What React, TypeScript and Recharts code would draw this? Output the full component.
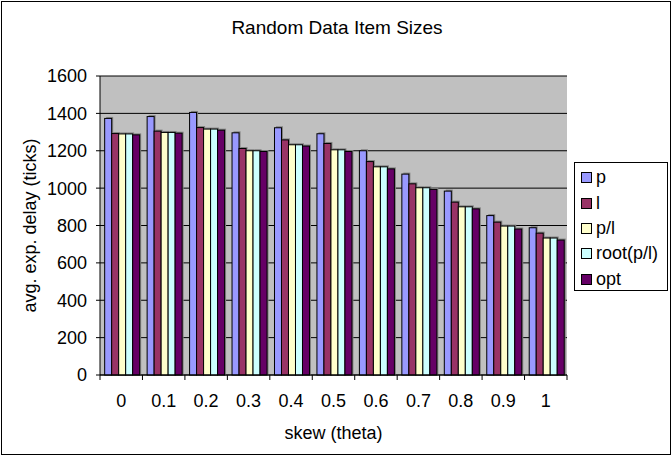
import React from 'react'
import { BarChart, Bar, XAxis, YAxis, CartesianGrid, Label } from 'recharts'

// skew values on the x axis
const skews = ['0', '0.1', '0.2', '0.3', '0.4', '0.5', '0.6', '0.7', '0.8', '0.9', '1']

// avg. exp. delay (ticks), one entry per skew
const pValues = [1373, 1383, 1405, 1296, 1323, 1291, 1200, 1075, 984, 853, 788]
const lValues = [1292, 1305, 1324, 1212, 1258, 1239, 1142, 1023, 925, 818, 759]
const plValues = [1290, 1298, 1316, 1200, 1232, 1205, 1114, 1002, 900, 797, 733]
const rootValues = [1290, 1298, 1316, 1200, 1232, 1205, 1114, 1002, 900, 797, 733]
const optValues = [1285, 1294, 1310, 1196, 1225, 1196, 1103, 993, 889, 781, 722]

const yTicks = [0, 200, 400, 600, 800, 1000, 1200, 1400, 1600]

const seriesNames = ['p', 'l', 'p/l', 'root(p/l)', 'opt']
const seriesKeys = ['p', 'l', 'pl', 'root', 'opt']
const seriesColors = ['#9999FF', '#993366', '#FFFFCC', '#CCFFFF', '#660066']

const chartData = skews.map((s, i) => ({
  skew: s,
  p: pValues[i],
  l: lValues[i],
  pl: plValues[i],
  root: rootValues[i],
  opt: optValues[i],
}))

const FONT = '"Liberation Sans", Arial, sans-serif'
const FONT_SIZE = 18

// bar with the little grey drop shadow excel puts behind it
const ShadowBar = (props: any) => {
  const { x, y, width, height, fill } = props
  if (height <= 0) return null
  return (
    <g>
      <rect x={x + 1.5} y={y - 1.5} width={width} height={height + 1.5} fill="#808080" />
      <rect x={x} y={y} width={width} height={height} fill={fill} stroke="#000" strokeWidth={1} />
    </g>
  )
}

// category label in the middle, tick marks on the category edges
const SkewTick = (props: any) => {
  const { x, y, payload, index } = props
  const band = props.width ? props.width / skews.length : 42.5
  return (
    <g>
      <line x1={x - band / 2} x2={x - band / 2} y1={y} y2={y + 5} stroke="#000" />
      {index === skews.length - 1 && (
        <line x1={x + band / 2} x2={x + band / 2} y1={y} y2={y + 5} stroke="#000" />
      )}
      <text x={x} y={y + 32} textAnchor="middle" fontFamily={FONT} fontSize={FONT_SIZE} fill="#000">
        {payload.value}
      </text>
    </g>
  )
}

export default function App() {
  return (
    <div style={{ position: 'absolute', left: 0, top: 0, width: 672, height: 456, background: '#fff' }}>
      <div
        style={{
          position: 'absolute',
          left: 1,
          top: 1,
          width: 668,
          height: 452,
          border: '1px solid #000',
        }}
      />
      <div
        style={{
          position: 'absolute',
          left: 0,
          top: 17,
          width: 674,
          textAlign: 'center',
          fontFamily: FONT,
          fontSize: 19,
        }}
      >
        Random Data Item Sizes
      </div>
      <div style={{ position: 'absolute', left: 0, top: 0 }}>
        <BarChart
          width={672}
          height={456}
          data={chartData}
          margin={{ top: 76, right: 105, left: 0, bottom: 0 }}
          barCategoryGap="11%"
          barGap={0}
        >
          <CartesianGrid fill="#C0C0C0" vertical={false} stroke="#000" strokeOpacity={1} />
          <XAxis
            dataKey="skew"
            height={81}
            tickLine={false}
            tickSize={0}
            tickMargin={0}
            axisLine={{ stroke: '#000' }}
            tick={<SkewTick />}
            interval={0}
          >
            <Label
              value="skew (theta)"
              position="insideBottom"
              offset={17}
              style={{ fontFamily: FONT, fontSize: FONT_SIZE, fill: '#000' }}
            />
          </XAxis>
          <YAxis
            width={100}
            domain={[0, 1600]}
            ticks={yTicks}
            interval={0}
            tickSize={4}
            tickMargin={9}
            axisLine={{ stroke: '#000' }}
            tickLine={{ stroke: '#000' }}
            tick={{ fontFamily: FONT, fontSize: FONT_SIZE, fill: '#000' }}
          >
            <Label
              value="avg. exp. delay (ticks)"
              angle={-90}
              position="insideLeft"
              offset={30}
              style={{ textAnchor: 'middle', fontFamily: FONT, fontSize: FONT_SIZE, fill: '#000' }}
            />
          </YAxis>
          {seriesKeys.map((k, i) => (
            <Bar
              key={k}
              dataKey={k}
              name={seriesNames[i]}
              fill={seriesColors[i]}
              shape={<ShadowBar />}
              isAnimationActive={false}
            />
          ))}
        </BarChart>
      </div>
      <div
        style={{
          position: 'absolute',
          left: 574,
          top: 162,
          width: 92,
          height: 125,
          border: '1px solid #000',
          background: '#fff',
          paddingTop: 2,
          boxSizing: 'content-box',
        }}
      >
        {seriesNames.map((n, i) => (
          <div
            key={n}
            style={{
              height: 25.4,
              display: 'flex',
              alignItems: 'center',
              paddingLeft: 6,
              fontFamily: FONT,
              fontSize: FONT_SIZE,
              whiteSpace: 'nowrap',
            }}
          >
            <span
              style={{
                display: 'inline-block',
                width: 9,
                height: 9,
                border: '1px solid #000',
                background: seriesColors[i],
                marginRight: 4,
              }}
            />
            {n}
          </div>
        ))}
      </div>
    </div>
  )
}
